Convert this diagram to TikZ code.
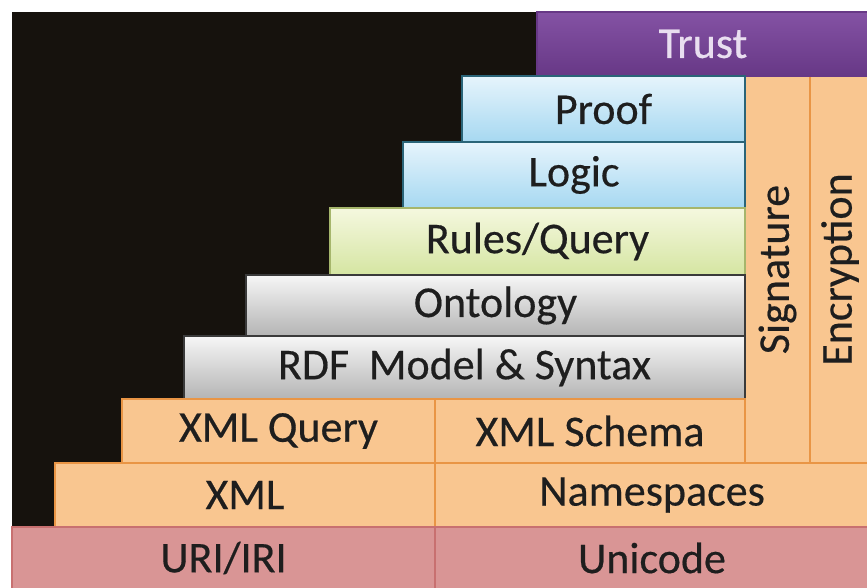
\documentclass[tikz,border=0pt]{standalone}
\usepackage{fontspec}
\setmainfont{Carlito}
\newfontface\labfont{Carlito}[FakeBold=0.4]
\definecolor{bg}{HTML}{16120D}
\definecolor{txt}{HTML}{1E1E1E}
\definecolor{trustA}{HTML}{8452A4}
\definecolor{trustB}{HTML}{673886}
\definecolor{trustT}{HTML}{E9DEF0}
\definecolor{blueA}{HTML}{E6F4FC}
\definecolor{blueB}{HTML}{A6D8F1}
\definecolor{blueL}{HTML}{2A6478}
\definecolor{greenA}{HTML}{F5F8DF}
\definecolor{greenB}{HTML}{D5E5A2}
\definecolor{greenL}{HTML}{A6B66C}
\definecolor{grayA}{HTML}{F6F6F6}
\definecolor{grayB}{HTML}{B4B4B4}
\definecolor{grayL}{HTML}{3A3A3A}
\definecolor{orangeF}{HTML}{F9C690}
\definecolor{orangeL}{HTML}{E99545}
\definecolor{pinkF}{HTML}{D99595}
\definecolor{pinkL}{HTML}{C87070}
\begin{document}
\begin{tikzpicture}[x=1pt,y=-1pt,
  box/.style={anchor=north west, inner sep=0pt, outer sep=0pt, line width=1.3pt,
    font=\labfont\fontsize{44}{50}\selectfont, text=txt},
  trustbox/.style={box, top color=trustA, bottom color=trustB, draw=trustB, text=trustT},
  bluebox/.style={box, top color=blueA, bottom color=blueB, draw=blueL},
  greenbox/.style={box, top color=greenA, bottom color=greenB, draw=greenL},
  graybox/.style={box, top color=grayA, bottom color=grayB, draw=grayL},
  orangebox/.style={box, fill=orangeF, draw=orangeL},
  pinkbox/.style={box, fill=pinkF, draw=pinkL},
  vlabel/.style={rotate=90, inner sep=0pt, font=\labfont\fontsize{44}{50}\selectfont, text=txt}
]
\useasboundingbox (0,0) rectangle (867,588);
\fill[white] (0,0) rectangle (867,588);
\fill[bg] (12,12) rectangle (867,588);
% security columns
\node[orangebox, minimum width=65pt, minimum height=387pt] (sig) at (745,76) {};
\node[orangebox, minimum width=60pt, minimum height=387pt] (enc) at (810,76) {};
\node[vlabel] (sigt) at (sig.center) {Signature};
\node[vlabel] (enct) at (enc.center) {Encryption};
% stack
\node[trustbox, minimum width=332pt, minimum height=64pt] (trust) at (537,12) {Trust};
\node[bluebox, minimum width=283pt, minimum height=66pt] (proof) at (462,76) {Proof};
\node[bluebox, minimum width=342pt, minimum height=66pt] (logic) at (403,142) {Logic};
\node[greenbox, minimum width=415pt, minimum height=67pt] (rules) at (330,208) {Rules/Query};
\node[graybox, minimum width=499pt, minimum height=61pt] (onto) at (246,275) {Ontology};
\node[graybox, minimum width=561pt, minimum height=63pt] (rdf) at (184,336) {RDF\hspace{0.45em}Model \& Syntax};
\node[orangebox, minimum width=313pt, minimum height=64pt] (xq) at (122,399) {XML Query};
\node[orangebox, minimum width=310pt, minimum height=64pt] (xs) at (435,399) {XML Schema};
\node[orangebox, minimum width=380pt, minimum height=64pt] (xml) at (55,463) {XML};
\node[orangebox, minimum width=434pt, minimum height=64pt] (ns) at (435,463) {Namespaces};
\node[pinkbox, minimum width=423pt, minimum height=62pt] (uri) at (12,527) {URI/IRI};
\node[pinkbox, minimum width=434pt, minimum height=62pt] (uni) at (435,527) {Unicode};
\end{tikzpicture}
\end{document}
